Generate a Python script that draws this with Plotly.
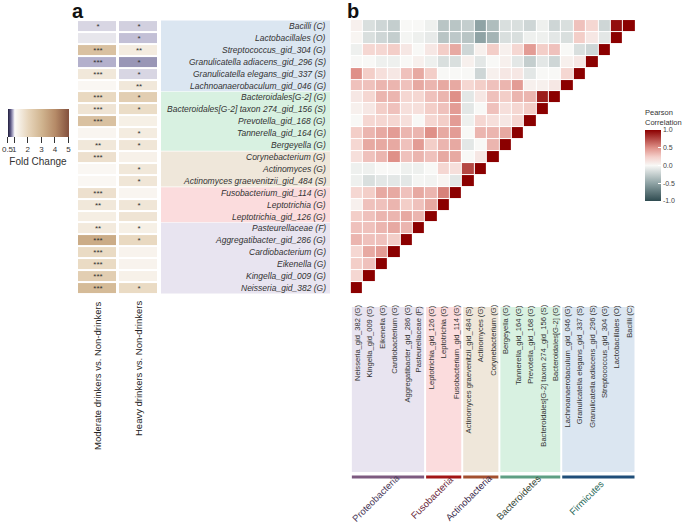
import plotly.graph_objects as go

FONT = "Liberation Sans, Arial, sans-serif"
W, H = 685, 525

taxa = ["Bacilli (C)", "Lactobacillales (O)", "Streptococcus_gid_304 (G)",
        "Granulicatella adiacens_gid_296 (S)", "Granulicatella elegans_gid_337 (S)",
        "Lachnoanaerobaculum_gid_046 (G)", "Bacteroidales[G-2] (G)",
        "Bacteroidales[G-2] taxon 274_gid_156 (S)", "Prevotella_gid_168 (G)",
        "Tannerella_gid_164 (G)", "Bergeyella (G)", "Corynebacterium (G)",
        "Actinomyces (G)", "Actinomyces graevenitzii_gid_484 (S)",
        "Fusobacterium_gid_114 (G)", "Leptotrichia (G)", "Leptotrichia_gid_126 (G)",
        "Pasteurellaceae (F)", "Aggregatibacter_gid_286 (G)", "Cardiobacterium (G)",
        "Eikenella (G)", "Kingella_gid_009 (G)", "Neisseria_gid_382 (G)"]

comparisons = ["Moderate drinkers vs. Non-drinkers", "Heavy drinkers vs. Non-drinkers"]

fc_moderate = [0.93, 0.96, 2.6, 0.86, 1.5, 1.1, 1.9, 1.6, 2.6, 1.15, 1.5, 1.7, 1.1, 1.1,
               1.7, 1.5, 1.35, 1.45, 3.2, 1.85, 1.85, 2.2, 2.8]
fc_heavy = [0.92, 0.89, 1.4, 0.81, 0.93, 1.5, 2.2, 1.8, 1.3, 1.4, 1.55, 1.25, 1.5, 1.55,
            1.15, 1.55, 1.6, 1.3, 1.9, 1.2, 1.2, 1.25, 1.85]
sig_moderate = ["*", "", "***", "***", "***", "", "***", "***", "***", "", "**", "***", "", "",
                "***", "**", "", "**", "***", "***", "***", "***", "***"]
sig_heavy = ["*", "*", "**", "*", "*", "**", "*", "*", "", "*", "*", "", "*", "*",
             "", "*", "", "*", "*", "", "", "", "*"]

# correlation rows (row taxon order as `taxa`), columns start at Neisseria and run to the diagonal
corr_rows = [
    [0.05, -0.15, -0.2, -0.25, 0.0, 0.0, -0.05, -0.3, -0.3, -0.25, -0.5, -0.35, -0.15, -0.15, -0.2, -0.05, -0.2, -0.15, 0.3, 0.2, -0.2, 0.95, 1.0],
    [0.02, -0.15, -0.2, -0.25, -0.02, -0.05, -0.08, -0.3, -0.28, -0.3, -0.5, -0.4, -0.15, -0.15, -0.05, -0.05, -0.1, -0.15, 0.25, 0.1, -0.1, 1.0],
    [-0.05, 0.2, 0.2, 0.25, 0.1, 0.0, 0.1, 0.25, 0.4, -0.2, 0.05, 0.25, 0.05, 0.2, 0.45, 0.25, 0.3, 0.0, -0.15, -0.2, 1.0],
    [0.0, 0.0, -0.05, -0.05, 0.0, 0.05, -0.05, -0.15, -0.15, 0.05, -0.1, 0.0, 0.05, -0.1, -0.25, -0.1, -0.2, 0.05, 0.1, 1.0],
    [0.5, 0.25, 0.15, 0.1, 0.3, 0.4, 0.25, 0.0, 0.0, 0.0, -0.2, 0.05, 0.1, 0.1, -0.1, 0.0, 0.0, 0.2, 1.0],
    [0.3, 0.3, 0.35, 0.35, 0.3, 0.4, 0.35, 0.4, 0.4, 0.2, 0.25, 0.3, 0.35, 0.45, 0.05, 0.05, 0.1, 1.0],
    [0.1, 0.2, 0.35, 0.35, 0.2, 0.2, 0.3, 0.35, 0.5, -0.1, 0.1, 0.3, 0.25, 0.35, 0.35, 0.9, 1.0],
    [0.05, 0.1, 0.25, 0.3, 0.15, 0.15, 0.25, 0.3, 0.45, -0.1, 0.0, 0.3, 0.15, 0.2, 0.25, 1.0],
    [0.0, 0.2, 0.2, 0.2, 0.15, 0.0, 0.2, 0.25, 0.45, -0.05, 0.2, 0.15, 0.1, 0.2, 1.0],
    [0.25, 0.35, 0.4, 0.45, 0.35, 0.35, 0.5, 0.4, 0.45, 0.0, 0.35, 0.35, 0.4, 1.0],
    [0.2, 0.4, 0.4, 0.4, 0.3, 0.45, 0.25, 0.35, 0.4, -0.1, 0.0, 0.35, 1.0],
    [0.15, 0.3, 0.35, 0.5, 0.3, 0.35, 0.3, 0.4, 0.4, 0.0, 0.1, 1.0],
    [-0.05, -0.05, 0.0, 0.0, -0.05, -0.05, 0.0, 0.2, 0.15, 0.75, 1.0],
    [-0.05, -0.15, -0.1, -0.1, -0.1, -0.02, -0.03, 0.02, -0.1, 1.0],
    [0.2, 0.25, 0.4, 0.4, 0.3, 0.4, 0.35, 0.55, 1.0],
    [0.05, 0.3, 0.3, 0.35, 0.25, 0.3, 0.4, 1.0],
    [0.25, 0.3, 0.35, 0.35, 0.4, 0.35, 1.0],
    [0.3, 0.3, 0.35, 0.4, 0.35, 1.0],
    [0.35, 0.3, 0.3, 0.25, 1.0],
    [0.2, 0.4, 0.45, 1.0],
    [0.25, 0.3, 1.0],
    [0.2, 1.0],
    [1.0],
]

phyla = ["Firmicutes", "Bacteroidetes", "Actinobacteria", "Fusobacteria", "Proteobacteria"]
phyla_counts = [6, 5, 3, 3, 6]
phyla_fill = ["#dbe6f1", "#d8f1e1", "#efe7da", "#fbdcdd", "#e8e4f0"]
phyla_line = ["#1f4e79", "#5f9f84", "#a3502f", "#a31616", "#7d5a80"]
phyla_text = ["#2b6b5b", "#3b4b3b", "#3b2b4b", "#6b2a3a", "#4b3b5b"]

def px_x(p):
    return p / W

def px_y(p):
    return 1 - p / H

cols_rev = taxa[::-1]
n = len(taxa)
z_corr = [row + [None] * (n - len(row)) for row in corr_rows]

fc_scale = [[0.0, "#221f3d"], [0.04, "#57547e"], [0.08, "#b3b0cc"], [0.111, "#fcfbf9"],
            [0.333, "#e7d5bb"], [0.556, "#d0b48f"], [0.778, "#b58a67"], [1.0, "#83503d"]]
corr_scale = [[0.0, "#2f4b50"], [0.25, "#8fa3a5"], [0.5, "#f8f8f6"], [0.62, "#f4d0cb"],
              [0.75, "#df9088"], [1.0, "#8b0000"]]

fig = go.Figure()

fig.add_trace(go.Heatmap(
    x=comparisons, y=taxa,
    z=[[a, b] for a, b in zip(fc_moderate, fc_heavy)],
    text=[[a, b] for a, b in zip(sig_moderate, sig_heavy)],
    texttemplate="%{text}", textfont=dict(size=8, color="#333", family=FONT),
    colorscale=fc_scale, zmin=0.5, zmax=5, xgap=3, ygap=2,
    xaxis="x", yaxis="y", hoverinfo="skip",
    colorbar=dict(orientation="h", x=px_x(38), xanchor="center", y=px_y(109), yanchor="top",
                  len=61, lenmode="pixels", thickness=28, thicknessmode="pixels",
                  xpad=0, ypad=0, tickangle=0,
                  tickvals=[0.5, 1, 2, 3, 4, 5], ticktext=["0.5", "1", "2", "3", "4", "5"],
                  ticks="outside", ticklen=6, tickcolor="#333", outlinewidth=0,
                  tickfont=dict(size=8, color="#333", family=FONT),
                  title=dict(text="Fold Change", side="bottom",
                             font=dict(size=10, color="#333", family=FONT))),
))

fig.add_trace(go.Heatmap(
    x=cols_rev, y=taxa, z=z_corr,
    colorscale=corr_scale, zmin=-1, zmax=1, xgap=1, ygap=1,
    xaxis="x2", yaxis="y", hoverongaps=False, hoverinfo="skip",
    colorbar=dict(x=px_x(645), xanchor="left", y=px_y(165.5), yanchor="middle",
                  len=71, lenmode="pixels", thickness=16, thicknessmode="pixels",
                  xpad=0, ypad=0,
                  tickvals=[-1, -0.5, 0, 0.5, 1], ticktext=["-1.0", "-0.5", "0.0", "0.5", "1.0"],
                  ticks="inside", ticklen=3, tickcolor="white", outlinewidth=0,
                  tickfont=dict(size=7, color="#444", family=FONT)),
))

shapes = []
annotations = []

# left label boxes and right bottom boxes
start = 0
for ph, cnt, fill, line, tcol in zip(phyla, phyla_counts, phyla_fill, phyla_line, phyla_text):
    end = start + cnt - 1
    shapes.append(dict(type="rect", xref="paper", yref="y", x0=px_x(161), x1=px_x(330),
                       y0=start - 0.47, y1=end + 0.47, fillcolor=fill, line_width=0, layer="below"))
    c0 = n - 1 - end
    c1 = n - 1 - start
    shapes.append(dict(type="rect", xref="x2", yref="paper", x0=c0 - 0.42, x1=c1 + 0.42,
                       y0=px_y(472), y1=px_y(307), fillcolor=fill, line_width=0, layer="below"))
    shapes.append(dict(type="line", xref="x2", yref="paper", x0=c0 - 0.42, x1=c1 + 0.42,
                       y0=px_y(477), y1=px_y(477), line=dict(color=line, width=3)))
    annotations.append(dict(text=ph, xref="x2", yref="paper", x=(c0 + c1) / 2, y=px_y(497),
                            xshift=-12, textangle=-45, showarrow=False, xanchor="center",
                            yanchor="middle", font=dict(size=9.5, color=tcol, family=FONT)))
    start = end + 1

for t in taxa:
    annotations.append(dict(text=f"<i>{t}</i>", xref="paper", yref="y", x=px_x(328), y=t,
                            xanchor="right", yanchor="middle", showarrow=False,
                            font=dict(size=8.5, color="#333", family=FONT)))
    annotations.append(dict(text=t, xref="x2", yref="paper", x=t, y=px_y(303),
                            xanchor="center", yanchor="top", textangle=-90, showarrow=False,
                            font=dict(size=7.6, color="#333", family=FONT)))

for c in comparisons:
    annotations.append(dict(text=c, xref="x", yref="paper", x=c, y=px_y(299),
                            xanchor="center", yanchor="top", textangle=-90, showarrow=False,
                            font=dict(size=9.5, color="#222", family=FONT)))

annotations += [
    dict(text="<b>a</b>", xref="paper", yref="paper", x=px_x(70), y=px_y(-2), xanchor="left",
         yanchor="top", showarrow=False, font=dict(size=20, color="#111", family=FONT)),
    dict(text="<b>b</b>", xref="paper", yref="paper", x=px_x(345), y=px_y(-2), xanchor="left",
         yanchor="top", showarrow=False, font=dict(size=20, color="#111", family=FONT)),
    dict(text="Pearson<br>Correlation", xref="paper", yref="paper", x=px_x(643), y=px_y(106),
         xanchor="left", yanchor="top", align="left", showarrow=False,
         font=dict(size=7.5, color="#333", family=FONT)),
]

fig.update_layout(
    width=W, height=H, margin=dict(l=0, r=0, t=0, b=0, autoexpand=False),
    paper_bgcolor="white", plot_bgcolor="white",
    font=dict(family=FONT),
    xaxis=dict(domain=[px_x(77), px_x(159)], visible=False, anchor="y"),
    xaxis2=dict(domain=[px_x(347), px_x(636)], visible=False, anchor="y"),
    yaxis=dict(domain=[px_y(295), px_y(19)], visible=False, autorange="reversed"),
    shapes=shapes, annotations=annotations, showlegend=False,
)

fig.write_html("out.html", config={"displayModeBar": False},
               post_script="document.body.style.margin='0px';document.body.style.padding='0px';")
